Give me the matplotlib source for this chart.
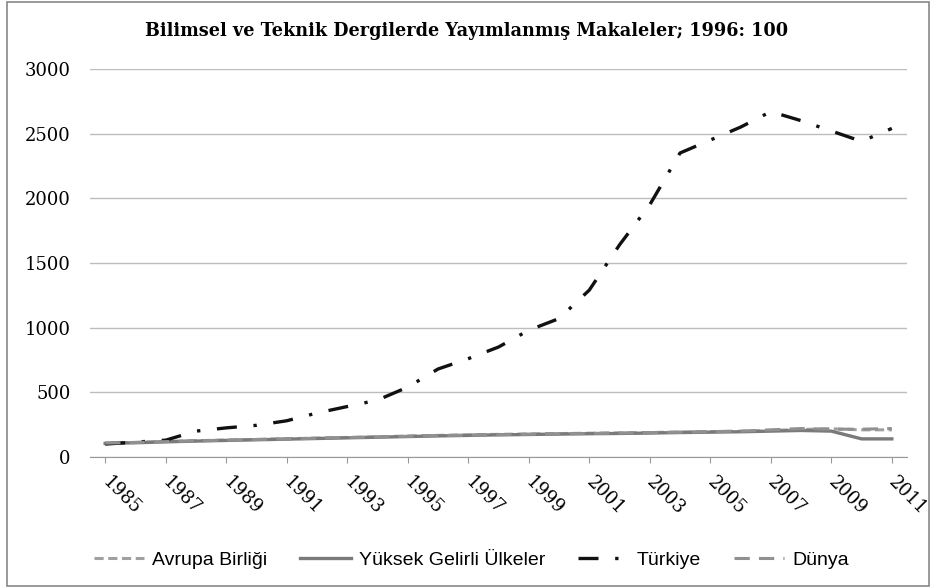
import matplotlib.pyplot as plt

# --- data (1996 = 100) ---
years = list(range(1985, 2012))
avrupa = [108, 113, 120, 126, 131, 136, 141, 146, 151, 156, 162, 167, 171, 175,
          178, 181, 184, 186, 189, 193, 196, 199, 205, 213, 218, 210, 210]
yuksek = [105, 110, 117, 123, 128, 133, 138, 143, 148, 153, 158, 163, 167, 171,
          174, 177, 180, 182, 185, 189, 192, 195, 200, 205, 200, 140, 140]
turkiye = [100, 115, 130, 200, 225, 245, 280, 340, 390, 440, 540, 680, 760, 850,
           980, 1070, 1290, 1640, 1950, 2350, 2450, 2550, 2670, 2600, 2520, 2440, 2540]
dunya = [107, 112, 119, 125, 130, 135, 140, 145, 150, 155, 160, 165, 169, 173,
         176, 179, 182, 185, 188, 192, 196, 200, 210, 220, 215, 215, 220]
tick_years = list(range(1985, 2012, 2))

title = "Bilimsel ve Teknik Dergilerde Yayımlanmış Makaleler; 1996: 100"

plt.rcParams['font.family'] = ['DejaVu Serif']

fig = plt.figure(figsize=(9.33, 5.88), dpi=100)
ax = fig.add_axes([0.0965, 0.2228, 0.8756, 0.66])

ax.plot(years, avrupa, color="#a0a0a0", lw=2.2, ls=(0, (3, 1.5)), label="Avrupa Birliği")
ax.plot(years, yuksek, color="#7a7a7a", lw=2.4, ls="-", label="Yüksek Gelirli Ülkeler")
ax.plot(years, turkiye, color="#111111", lw=2.4, ls=(0, (6, 5, 1, 5)), label="Türkiye")
ax.plot(years, dunya, color="#909090", lw=2.2, ls=(0, (5, 3)), label="Dünya")

ax.set_xlim(1984.5, 2011.5)
ax.set_ylim(0, 3000)
ax.set_yticks(range(0, 3001, 500))
ax.set_xticks(tick_years)
ax.set_xticklabels([str(y) for y in tick_years], rotation=-45, ha="left", va="center",
                   rotation_mode="anchor", fontsize=13)
ax.tick_params(axis="y", labelsize=13, length=0, pad=14)
ax.tick_params(axis="x", length=4, color="#999999", pad=12)

ax.grid(axis="y", color="#bdbdbd", lw=1)
ax.set_axisbelow(True)
for s in ["top", "right", "left"]:
    ax.spines[s].set_visible(False)
ax.spines["bottom"].set_color("#999999")

fig.text(0.5, 0.948, title, ha="center", va="center", fontsize=12.7, fontweight="bold")

fig.legend(loc="center", bbox_to_anchor=(0.505, 0.048), ncol=4, frameon=False,
           handlelength=2.6, columnspacing=1.7, handletextpad=0.4,
           prop={"family": ["Liberation Sans", "DejaVu Sans"], "size": 14})

# outer frame
fig.patches.append(plt.Rectangle((0.008, 0.004), 0.988, 0.992, transform=fig.transFigure,
                                 fill=False, edgecolor="#888888", lw=1.2))

plt.savefig("out.png", dpi=100)
